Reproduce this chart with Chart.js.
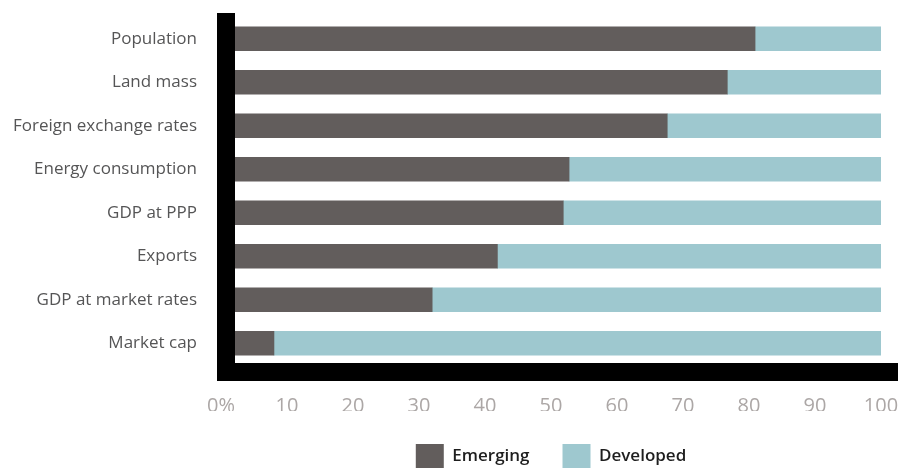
<!DOCTYPE html>
<html>
<head>
<meta charset="utf-8">
<script src="https://cdn.jsdelivr.net/npm/chart.js@4/dist/chart.umd.min.js"></script>
<style>
  html, body { margin: 0; padding: 0; background: #ffffff; }
  #wrap { width: 898px; height: 468px; position: relative; }
</style>
</head>
<body>
<div id="wrap"><canvas id="c" width="898" height="468"></canvas></div>
<script>
const categories = ["Population", "Land mass", "Foreign exchange rates", "Energy consumption", "GDP at PPP", "Exports", "GDP at market rates", "Market cap"];
const emerging = [80.5, 76.2, 66.9, 51.7, 50.8, 40.6, 30.5, 6.0];
const developed = [19.5, 23.8, 33.1, 48.3, 49.2, 59.4, 69.5, 94.0];
const tickValues = [0, 10, 20, 30, 40, 50, 60, 70, 80, 90, 100];
const seriesNames = ["Emerging", "Developed"];

const axisBars = {
  id: 'axisBars',
  afterDatasetsDraw(chart) {
    const { ctx, chartArea } = chart;
    ctx.save();
    ctx.fillStyle = '#000000';
    const top = chartArea.top - 4;
    const bottom = chartArea.bottom + 16;
    ctx.fillRect(217, top, 18, bottom - top);
    ctx.fillRect(217, chartArea.bottom - 2, chart.width - 217, 18);
    ctx.restore();
  }
};

new Chart(document.getElementById('c'), {
  type: 'bar',
  data: {
    labels: categories,
    datasets: [
      { label: seriesNames[0], data: emerging, backgroundColor: '#625d5c', xAxisID: 'x', barThickness: 24 },
      { label: seriesNames[1], data: developed, backgroundColor: '#9ec8cf', xAxisID: 'x', barThickness: 24 }
    ]
  },
  options: {
    indexAxis: 'y',
    responsive: false,
    animation: false,
    devicePixelRatio: 1,
    layout: { padding: { left: 0, right: 17, top: 17, bottom: -10 } },
    plugins: {
      tooltip: { enabled: false },
      legend: {
        position: 'bottom',
        fullSize: false,
        labels: {
          boxWidth: 28,
          boxHeight: 24,
          padding: 33,
          color: '#1e1e1e',
          font: { family: 'Open Sans', size: 17, weight: '600' }
        }
      }
    },
    scales: {
      x: {
        stacked: true,
        min: -2.2,
        max: 100,
        display: false
      },
      x2: {
        type: 'linear',
        position: 'bottom',
        min: 0,
        max: 100,
        afterBuildTicks(scale) { scale.ticks = tickValues.map(v => ({ value: v })); },
        afterFit(scale) { scale.height = 46; scale.paddingLeft = 0; scale.paddingRight = 0; },
        grid: { display: false },
        border: { display: false },
        ticks: {
          color: '#aca7a6',
          padding: 21,
          maxRotation: 0,
          font: { family: 'Open Sans', size: 20 },
          callback: (v) => v === 0 ? '0%' : String(v)
        }
      },
      y: {
        stacked: true,
        afterFit(scale) { scale.width = 221; scale.paddingTop = 0; scale.paddingBottom = 0; },
        grid: { display: false },
        border: { display: false },
        ticks: {
          color: '#555556',
          padding: 16,
          font: { family: 'Open Sans', size: 17, weight: '500' }
        }
      }
    }
  },
  plugins: [axisBars]
});
</script>
</body>
</html>
